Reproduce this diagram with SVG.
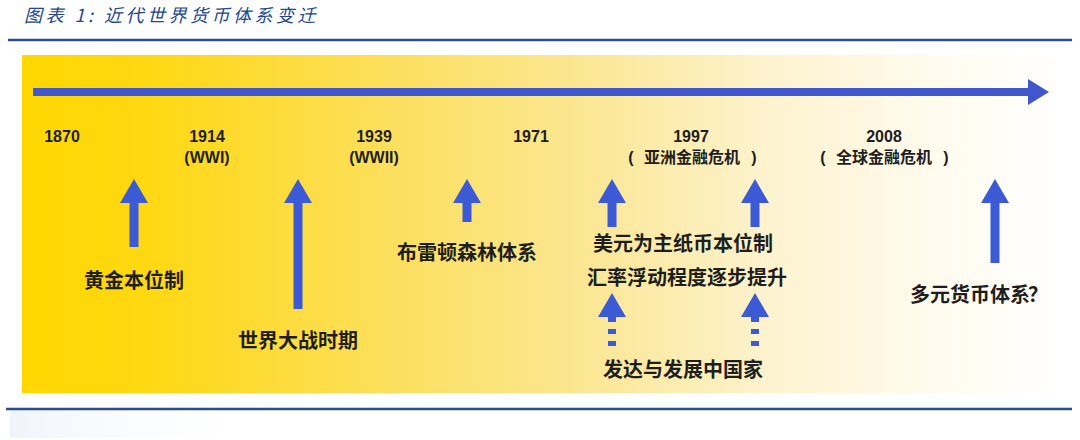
<svg xmlns="http://www.w3.org/2000/svg" width="1080" height="440" viewBox="0 0 1080 440">
  <defs>
    <linearGradient id="bg" x1="0" y1="0" x2="1" y2="0">
      <stop offset="0" stop-color="#FFD700"/>
      <stop offset="0.12" stop-color="#FED812"/>
      <stop offset="0.35" stop-color="#FCDF5C"/>
      <stop offset="0.55" stop-color="#FBE796"/>
      <stop offset="0.72" stop-color="#FDF3CF"/>
      <stop offset="0.88" stop-color="#FFFBEE"/>
      <stop offset="1" stop-color="#FFFFFF"/>
    </linearGradient>
    <linearGradient id="glow" x1="0" y1="0" x2="1" y2="0">
      <stop offset="0" stop-color="#EEF3FA" stop-opacity="0.9"/>
      <stop offset="1" stop-color="#FFFFFF" stop-opacity="0"/>
    </linearGradient>
    <style>
      .title { font-family: "Noto Sans CJK SC", sans-serif; font-style: italic; font-size: 18px; fill: #24468C; letter-spacing: 3.5px; }
      .year { font-family: "Liberation Sans", "Noto Sans CJK SC", sans-serif; font-weight: bold; font-size: 16px; fill: #1E1E1E; text-anchor: middle; }
      .sub { font-family: "Noto Sans CJK SC", "Liberation Sans", sans-serif; font-weight: bold; font-size: 16px; fill: #1E1E1E; text-anchor: middle; }
      .lbl { font-family: "Noto Sans CJK SC", sans-serif; font-weight: bold; font-size: 20px; fill: #1E1E1E; text-anchor: middle; }
      .arr { fill: #3D5AD6; }
      .dash { stroke: #3D5AD6; stroke-width: 8; stroke-dasharray: 5 7; fill: none; }
      .rule { stroke: #2A4D8F; stroke-width: 2.5; }
    </style>
  </defs>

  <rect x="0" y="0" width="1080" height="440" fill="#FFFFFF"/>

  <text class="title" x="24" y="22">图表 1: 近代世界货币体系变迁</text>
  <line class="rule" x1="8" y1="40" x2="1072" y2="40"/>

  <rect x="22" y="55" width="1040" height="338" fill="url(#bg)"/>

  <rect x="10" y="410" width="270" height="28" fill="url(#glow)"/>
  <line class="rule" x1="6" y1="409" x2="1072" y2="409"/>

  <g id="timeline">
    <path d="M33,88 L1028,88 L1028,79 L1049,92 L1028,105 L1028,96 L33,96 Z" fill="#4056CC"/>
  </g>

  <g id="years">
    <text class="year" x="62" y="142">1870</text>
    <text class="year" x="207" y="142">1914</text>
    <text class="year" x="207" y="163">(WWI)</text>
    <text class="year" x="374" y="142">1939</text>
    <text class="year" x="374" y="163">(WWII)</text>
    <text class="year" x="531" y="142">1971</text>
    <text class="year" x="691" y="142">1997</text>
    <text class="year" x="631" y="163">(</text>
    <text class="sub" x="692" y="163">亚洲金融危机</text>
    <text class="year" x="754" y="163">)</text>
    <text class="year" x="884" y="142">2008</text>
    <text class="year" x="823" y="163">(</text>
    <text class="sub" x="884" y="163">全球金融危机</text>
    <text class="year" x="946" y="163">)</text>
  </g>

  <g id="connectors">
    <path class="arr" d="M134,179 L148,203 L138.5,203 L138.5,247 L129.5,247 L129.5,203 L120,203 Z"/>
    <path class="arr" d="M298,179 L312,203 L302.5,203 L302.5,309 L293.5,309 L293.5,203 L284,203 Z"/>
    <path class="arr" d="M467,179 L481,203 L471.5,203 L471.5,222 L462.5,222 L462.5,203 L453,203 Z"/>
    <path class="arr" d="M612,179 L626,203 L616.5,203 L616.5,227 L607.5,227 L607.5,203 L598,203 Z"/>
    <path class="arr" d="M755,179 L769,203 L759.5,203 L759.5,227 L750.5,227 L750.5,203 L741,203 Z"/>
    <path class="arr" d="M995,179 L1009,203 L999.5,203 L999.5,263 L990.5,263 L990.5,203 L981,203 Z"/>
    <path class="arr" d="M612,293 L626,317 L598,317 Z"/>
    <line class="dash" x1="612" y1="317" x2="612" y2="348"/>
    <path class="arr" d="M755,293 L769,317 L741,317 Z"/>
    <line class="dash" x1="755" y1="317" x2="755" y2="348"/>
  </g>

  <g id="node-gold">
    <text class="lbl" x="134" y="288">黄金本位制</text>
  </g>
  <g id="node-war">
    <text class="lbl" x="298" y="348">世界大战时期</text>
  </g>
  <g id="node-bretton">
    <text class="lbl" x="467" y="260">布雷顿森林体系</text>
  </g>
  <g id="node-dollar">
    <text class="lbl" x="683" y="251">美元为主纸币本位制</text>
  </g>
  <g id="node-float">
    <text class="lbl" x="687" y="285">汇率浮动程度逐步提升</text>
  </g>
  <g id="node-countries">
    <text class="lbl" x="683" y="377">发达与发展中国家</text>
  </g>
  <g id="node-multi">
    <text class="lbl" x="970" y="302">多元货币体系</text>
    <text class="lbl" x="1038" y="302">？</text>
  </g>
</svg>
